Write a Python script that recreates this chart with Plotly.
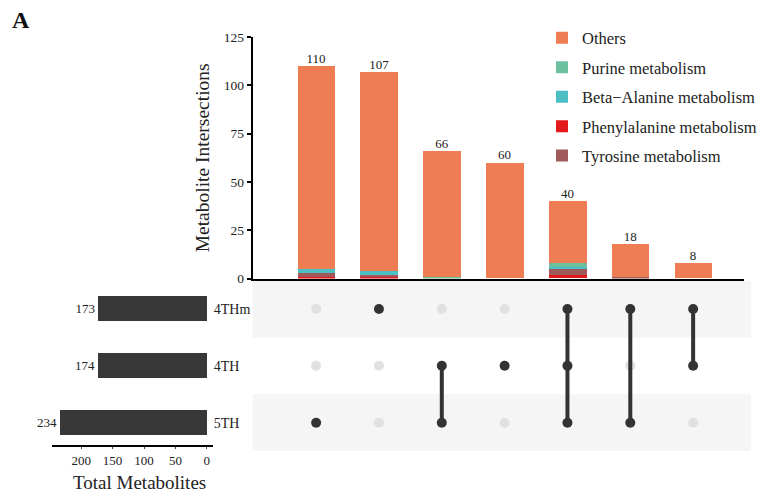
import plotly.graph_objects as go

# ---------------- data ----------------
intersection_totals = [110, 107, 66, 60, 40, 18, 8]
sets = ["5TH", "4TH", "4THm"]          # bottom -> top rows
set_sizes = [234, 174, 173]
# membership of each intersection column (order of `sets`)
membership = [
    [1, 0, 0],
    [0, 0, 1],
    [1, 1, 0],
    [0, 1, 0],
    [1, 1, 1],
    [1, 0, 1],
    [0, 1, 1],
]
phenylalanine = [1, 1, 0, 0, 2, 0, 0]
tyrosine = [2, 1, 0, 0, 3, 1, 0]
beta_alanine = [2, 2, 0, 0, 1, 0, 0]
purine = [0, 0, 1, 0, 2, 0, 0]
others = [105, 103, 65, 60, 32, 17, 8]

W, H = 762, 497
def px_x(p): return p / W
def px_y(p): return 1 - p / H

SERIF = "Liberation Serif"
cols = list(range(len(intersection_totals)))

fig = go.Figure()

# stacked bars (bottom -> top)
stack = [
    ("Phenylalanine metabolism", phenylalanine, "#e3191c", 4),
    ("Tyrosine metabolism", tyrosine, "#a05a5a", 5),
    ("Beta\u2212Alanine metabolism", beta_alanine, "#4cbfc4", 3),
    ("Purine metabolism", purine, "#6cbf9f", 2),
    ("Others", others, "#ee7d54", 1),
]
for name, vals, color, rank in stack:
    fig.add_trace(go.Bar(
        x=cols, y=vals, name=name, marker=dict(color=color, line=dict(width=0)),
        width=0.6, xaxis="x", yaxis="y", legendgroup=name, legendrank=rank,
        hoverinfo="skip",
    ))

# totals above bars
fig.add_trace(go.Scatter(
    x=cols, y=intersection_totals, mode="text",
    text=[str(v) for v in intersection_totals], textposition="top center",
    textfont=dict(family=SERIF, size=13, color="#222"),
    xaxis="x", yaxis="y", showlegend=False, hoverinfo="skip", cliponaxis=False,
))

# matrix: inactive dots, connecting lines, active dots
inactive_x, inactive_y, active_x, active_y = [], [], [], []
for c, mem in zip(cols, membership):
    for r, m in enumerate(mem):
        (active_x if m else inactive_x).append(c)
        (active_y if m else inactive_y).append(r)
fig.add_trace(go.Scatter(
    x=inactive_x, y=inactive_y, mode="markers",
    marker=dict(color="#e1e1e1", size=10),
    xaxis="x2", yaxis="y2", showlegend=False, hoverinfo="skip",
))
for c, mem in zip(cols, membership):
    active = [i for i, m in enumerate(mem) if m]
    if len(active) > 1:
        fig.add_trace(go.Scatter(
            x=[c, c], y=[min(active), max(active)], mode="lines",
            line=dict(color="#333333", width=4),
            xaxis="x2", yaxis="y2", showlegend=False, hoverinfo="skip",
        ))
fig.add_trace(go.Scatter(
    x=active_x, y=active_y, mode="markers",
    marker=dict(color="#333333", size=10),
    xaxis="x2", yaxis="y2", showlegend=False, hoverinfo="skip",
))

# set size bars
fig.add_trace(go.Bar(
    x=set_sizes, y=list(range(len(sets))), orientation="h",
    marker=dict(color="#383838", line=dict(width=0)), width=0.44,
    text=[str(v) for v in set_sizes], textposition="outside",
    textfont=dict(family=SERIF, size=13, color="#222"),
    xaxis="x3", yaxis="y3", showlegend=False, hoverinfo="skip", cliponaxis=False,
))

# shaded matrix bands
shapes = []
for i in range(len(sets)):
    if i % 2 == 0:
        shapes.append(dict(type="rect", xref="paper", yref="y2",
                           x0=px_x(253), x1=px_x(752), y0=i - 0.5, y1=i + 0.5,
                           fillcolor="#f5f5f5", line=dict(width=0), layer="below"))

xrange = [-1.01, 6.81]
fig.update_layout(
    width=W, height=H, margin=dict(l=0, r=0, t=0, b=0),
    paper_bgcolor="white", plot_bgcolor="rgba(0,0,0,0)",
    barmode="stack", bargap=0,
    font=dict(family=SERIF, color="#222", size=13),
    shapes=shapes,
    xaxis=dict(domain=[px_x(253), px_x(745)], range=xrange, anchor="y",
               showline=True, linecolor="black", linewidth=2,
               showticklabels=False, ticks="", showgrid=False, zeroline=False),
    yaxis=dict(domain=[px_y(280), px_y(31)], range=[0, 125], anchor="x",
               tickvals=[0, 25, 50, 75, 100, 125], ticks="outside", ticklen=4,
               tickcolor="black", tickwidth=1.5,
               showline=True, linecolor="black", linewidth=2,
               showgrid=False, zeroline=False,
               tickfont=dict(family=SERIF, size=13.5, color="#222"),
               title=dict(text="Metabolite Intersections",
                          font=dict(family=SERIF, size=19.5, color="#222"), standoff=9)),
    xaxis2=dict(domain=[px_x(253), px_x(745)], range=xrange, anchor="y2",
                visible=False),
    yaxis2=dict(domain=[px_y(458), px_y(282)], range=[-0.5, 2.5], anchor="x2",
                visible=False),
    xaxis3=dict(domain=[px_x(52), px_x(213)], range=[246.7, -9.5], anchor="free",
                position=px_y(453),
                tickvals=[0, 50, 100, 150, 200], ticks="outside", ticklen=2,
                showline=True, linecolor="black", linewidth=2,
                showgrid=False, zeroline=False,
                tickfont=dict(family=SERIF, size=13, color="#222")),
    yaxis3=dict(domain=[px_y(458), px_y(282)], range=[-0.5, 2.5], anchor="x3",
                side="right", tickvals=list(range(len(sets))), ticktext=sets,
                ticks="", showline=False, showgrid=False, zeroline=False,
                tickfont=dict(family=SERIF, size=14, color="#222")),
    legend=dict(x=px_x(543), y=px_y(14), xanchor="left", yanchor="top",
                traceorder="grouped", tracegroupgap=5,
                font=dict(family=SERIF, size=16.5, color="#222"),
                bgcolor="rgba(0,0,0,0)", itemwidth=30),
    annotations=[
        dict(text="<b>A</b>", x=px_x(10), y=px_y(13), xref="paper", yref="paper",
             xanchor="left", yanchor="middle", showarrow=False,
             font=dict(family=SERIF, size=24, color="#111")),
        dict(text="Total Metabolites", x=px_x(140), y=px_y(490), xref="paper", yref="paper",
             xanchor="center", yanchor="middle", showarrow=False,
             font=dict(family=SERIF, size=19, color="#222")),
    ],
)

fig.write_html(
    "out.html",
    config={"displayModeBar": False},
    post_script="document.body.style.margin='0';document.body.style.padding='0';"
                "document.documentElement.style.overflow='hidden';",
)
